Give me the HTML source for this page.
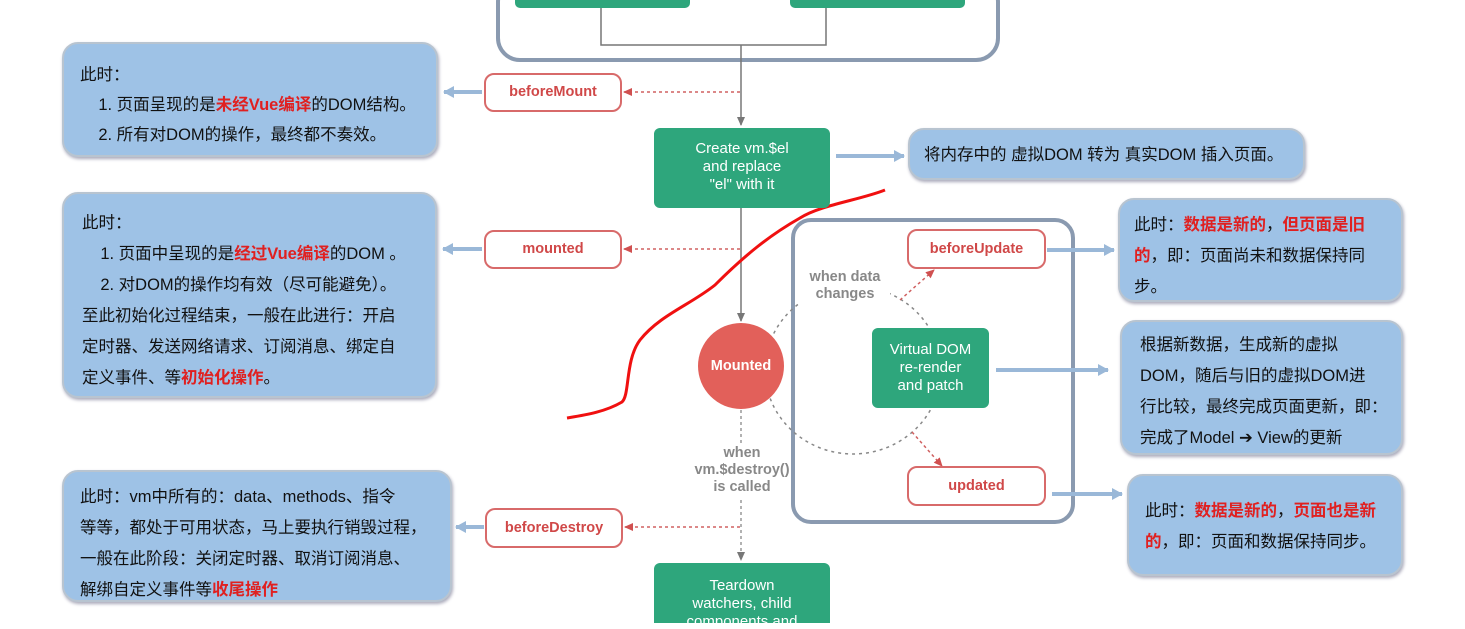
<!DOCTYPE html>
<html><head><meta charset="utf-8"><style>
body{margin:0;width:1465px;height:629px;background:#fff;overflow:hidden;position:relative;font-family:"Liberation Sans","Noto Sans CJK SC",sans-serif}
.a{position:absolute;box-sizing:border-box}
.blue{background:#9ec2e6;border:2px solid #b8c4d0;border-radius:16px;box-shadow:1px 2px 3px #aab;color:#111;font-size:16.5px;white-space:nowrap}
.lbl{border:2px solid #d86a6a;border-radius:10px;background:#fff;color:#d04848;font-weight:bold;font-size:14.5px;text-align:center}
.grn{background:#2ea67c;color:#fff;border-radius:6px;text-align:center;font-size:15px;line-height:18px}
.r{color:#e02020;font-weight:bold}
.g{color:#888;font-weight:bold;font-size:14.5px;text-align:center;line-height:17px}
</style></head><body>
<svg class="a" style="left:0;top:0" width="1465" height="629">
<defs>
<marker id="ag" markerUnits="userSpaceOnUse" markerWidth="10" markerHeight="10" refX="8" refY="5" orient="auto"><path d="M0,1 L9,5 L0,9Z" fill="#777"/></marker>
<marker id="ar" markerUnits="userSpaceOnUse" markerWidth="10" markerHeight="10" refX="8" refY="5" orient="auto"><path d="M0,1 L9,5 L0,9Z" fill="#d05050"/></marker>
<marker id="ab" markerUnits="userSpaceOnUse" markerWidth="12" markerHeight="14" refX="10" refY="7" orient="auto"><path d="M0,1 L11,7 L0,13Z" fill="#9ab8d8"/></marker>
</defs>
<rect x="498" y="-20" width="500" height="80" rx="22" fill="#fff" stroke="#8a9ab0" stroke-width="4"/>
<rect x="515" y="-10" width="175" height="18" rx="5" fill="#2ea67c"/>
<rect x="790" y="-10" width="175" height="18" rx="5" fill="#2ea67c"/>
<path d="M601,8 V45 H826 V8" fill="none" stroke="#777" stroke-width="1.5"/>
<path d="M741,45 V125" stroke="#777" stroke-width="1.5" marker-end="url(#ag)"/>
<path d="M741,208 V321" stroke="#777" stroke-width="1.5" marker-end="url(#ag)"/>
<path d="M741,410 V445 M741,500 V560" stroke="#999" stroke-width="1.5" stroke-dasharray="3,3" marker-end="url(#ag)"/>
<path d="M740,92 H624" stroke="#d06060" stroke-width="1.5" stroke-dasharray="3,3" marker-end="url(#ar)"/>
<path d="M740,249 H624" stroke="#d06060" stroke-width="1.5" stroke-dasharray="3,3" marker-end="url(#ar)"/>
<path d="M740,527 H625" stroke="#d06060" stroke-width="1.5" stroke-dasharray="3,3" marker-end="url(#ar)"/>
<rect x="793" y="220" width="280" height="302" rx="18" fill="none" stroke="#8a9ab0" stroke-width="4"/>
<ellipse cx="853" cy="370" rx="88" ry="84" fill="none" stroke="#888" stroke-width="1.5" stroke-dasharray="3,4"/>
<rect x="800" y="268" width="90" height="36" fill="#fff"/>
<path d="M900,300 L934,270" stroke="#d06060" stroke-width="1.5" stroke-dasharray="3,3" marker-end="url(#ar)"/>
<path d="M912,432 L942,466" stroke="#d06060" stroke-width="1.5" stroke-dasharray="3,3" marker-end="url(#ar)"/>
<g stroke="#9ab8d8" stroke-width="4" fill="none">
<path d="M482,92 H444" marker-end="url(#ab)"/>
<path d="M482,249 H443" marker-end="url(#ab)"/>
<path d="M484,527 H456" marker-end="url(#ab)"/>
<path d="M836,156 H904" marker-end="url(#ab)"/>
<path d="M1047,250 H1114" marker-end="url(#ab)"/>
<path d="M996,370 H1108" marker-end="url(#ab)"/>
<path d="M1052,494 H1122" marker-end="url(#ab)"/>
</g>
<path d="M885,190 C860,200 820,205 800,218 C770,235 745,255 715,285 C690,305 660,315 640,340 C625,360 630,395 622,402 C605,412 585,415 567,418" fill="none" stroke="#f01010" stroke-width="3"/>
</svg>

<div class="a blue" style="left:62px;top:42px;width:376px;height:115px;padding:16px 16px;line-height:30px">此时：<br>&nbsp;&nbsp;&nbsp;&nbsp;1. 页面呈现的是<span class="r">未经Vue编译</span>的DOM结构。<br>&nbsp;&nbsp;&nbsp;&nbsp;2. 所有对DOM的操作，最终都不奏效。</div>
<div class="a blue" style="left:62px;top:192px;width:375px;height:206px;padding:14px 18px;line-height:31px">此时：<br>&nbsp;&nbsp;&nbsp;&nbsp;1. 页面中呈现的是<span class="r">经过Vue编译</span>的DOM 。<br>&nbsp;&nbsp;&nbsp;&nbsp;2. 对DOM的操作均有效（尽可能避免）。<br>至此初始化过程结束，一般在此进行：开启<br>定时器、发送网络请求、订阅消息、绑定自<br>定义事件、等<span class="r">初始化操作</span>。</div>
<div class="a blue" style="left:62px;top:470px;width:390px;height:132px;padding:10px 16px;line-height:31px">此时：vm中所有的：data、methods、指令<br>等等，都处于可用状态，马上要执行销毁过程，<br>一般在此阶段：关闭定时器、取消订阅消息、<br>解绑自定义事件等<span class="r">收尾操作</span></div>
<div class="a blue" style="left:908px;top:128px;width:397px;height:52px;padding:13px 14px;line-height:24px">将内存中的 虚拟DOM 转为 真实DOM 插入页面。</div>
<div class="a blue" style="left:1118px;top:198px;width:285px;height:104px;padding:10px 14px;line-height:31px">此时：<span class="r">数据是新的</span>，<span class="r">但页面是旧</span><br><span class="r">的</span>，即：页面尚未和数据保持同<br>步。</div>
<div class="a blue" style="left:1120px;top:320px;width:283px;height:135px;padding:8px 18px;line-height:31px">根据新数据，生成新的虚拟<br>DOM，随后与旧的虚拟DOM进<br>行比较，最终完成页面更新，即：<br>完成了Model ➔ View的更新</div>
<div class="a blue" style="left:1127px;top:474px;width:276px;height:102px;padding:20px 16px;line-height:31px">此时：<span class="r">数据是新的</span>，<span class="r">页面也是新</span><br><span class="r">的</span>，即：页面和数据保持同步。</div>

<div class="a lbl" style="left:484px;top:73px;width:138px;height:39px;line-height:35px">beforeMount</div>
<div class="a lbl" style="left:484px;top:230px;width:138px;height:39px;line-height:35px">mounted</div>
<div class="a lbl" style="left:485px;top:508px;width:138px;height:40px;line-height:36px">beforeDestroy</div>
<div class="a lbl" style="left:907px;top:229px;width:139px;height:40px;line-height:36px">beforeUpdate</div>
<div class="a lbl" style="left:907px;top:466px;width:139px;height:40px;line-height:36px">updated</div>

<div class="a grn" style="left:654px;top:128px;width:176px;height:80px;padding-top:12px">Create vm.$el<br>and replace<br>"el" with it</div>
<div class="a grn" style="left:872px;top:328px;width:117px;height:80px;padding-top:13px">Virtual DOM<br>re-render<br>and patch</div>
<div class="a grn" style="left:654px;top:563px;width:176px;height:60px;padding-top:14px;overflow:hidden;border-radius:6px 6px 0 0">Teardown<br>watchers, child<br>components and</div>
<div class="a" style="left:698px;top:323px;width:86px;height:86px;border-radius:50%;background:#e2605a;color:#fff;font-weight:bold;font-size:14.5px;text-align:center;line-height:86px">Mounted</div>
<div class="a g" style="left:795px;top:269px;width:100px">when data<br>changes</div>
<div class="a g" style="left:690px;top:445px;width:104px">when<br>vm.$destroy()<br>is called</div>
</body></html>
